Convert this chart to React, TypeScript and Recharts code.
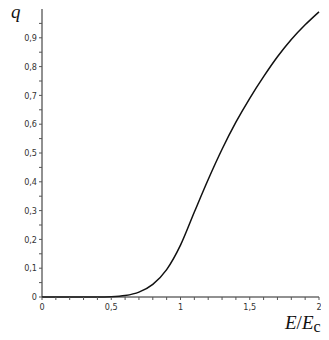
import React from 'react';
import { Line, LineChart, XAxis, YAxis } from 'recharts';

// E/Ec values along the x axis
const energyRatio = [0, 0.1, 0.2, 0.3, 0.4, 0.5, 0.6, 0.7, 0.8, 0.9, 1.0, 1.1, 1.2, 1.3, 1.4, 1.5, 1.6, 1.7, 1.8, 1.9, 2.0];
// q
const qValues = [0, 0, 0, 0, 0, 0.001, 0.005, 0.017, 0.044, 0.095, 0.18, 0.295, 0.408, 0.513, 0.607, 0.69, 0.765, 0.834, 0.894, 0.945, 0.99];

const xTicks = [0, 0.1, 0.2, 0.3, 0.4, 0.5, 0.6, 0.7, 0.8, 0.9, 1, 1.1, 1.2, 1.3, 1.4, 1.5, 1.6, 1.7, 1.8, 1.9, 2];
const yTicks = [0, 0.05, 0.1, 0.15, 0.2, 0.25, 0.3, 0.35, 0.4, 0.45, 0.5, 0.55, 0.6, 0.65, 0.7, 0.75, 0.8, 0.85, 0.9, 0.95];

const chartData = energyRatio.map((e, i) => ({ e, q: qValues[i] }));

const isStep = (v: number, step: number) => Math.abs(v / step - Math.round(v / step)) < 1e-6;
const commaNum = (v: number) => String(Math.round(v * 10) / 10).replace('.', ',');

const tickFont = {
  fill: '#333',
  fontSize: 9,
  fontFamily: '"Liberation Sans Narrow", "DejaVu Sans Condensed", sans-serif',
};
const axisStroke = '#222';

export default function App() {
  return (
    <div style={{ position: 'relative', width: 321, height: 332 }}>
      <LineChart
        width={321}
        height={332}
        data={chartData}
        margin={{ top: 1, right: 10, left: 0, bottom: 23 }}
      >
        <XAxis
          dataKey="e"
          type="number"
          domain={[0, 2]}
          ticks={xTicks}
          interval={0}
          tickFormatter={(v: number) => (isStep(v, 0.5) ? commaNum(v) : '')}
          tick={tickFont}
          tickSize={3}
          tickMargin={4}
          axisLine={{ stroke: axisStroke }}
          tickLine={{ stroke: '#555' }}
          height={20}
        />
        <YAxis
          type="number"
          domain={[0, 1]}
          ticks={yTicks}
          interval={0}
          tickFormatter={(v: number) => (isStep(v, 0.1) ? commaNum(v) : '')}
          tick={tickFont}
          tickSize={3}
          tickMargin={2}
          axisLine={{ stroke: axisStroke }}
          tickLine={{ stroke: '#555' }}
          width={34}
        />
        <Line
          type="monotone"
          dataKey="q"
          stroke="#111"
          strokeWidth={1.5}
          dot={false}
          isAnimationActive={false}
        />
      </LineChart>
      <div
        style={{
          position: 'absolute',
          left: 3,
          top: -7,
          fontFamily: '"Liberation Serif", serif',
          fontStyle: 'italic',
          fontSize: 19,
          color: '#111',
        }}
      >
        q
      </div>
      <div
        style={{
          position: 'absolute',
          left: 277,
          top: 304,
          fontFamily: '"Liberation Serif", serif',
          fontSize: 19,
          color: '#111',
          whiteSpace: 'nowrap',
        }}
      >
        <i>E</i>/<i>E</i>
        <span style={{ fontSize: 16, position: 'relative', top: 3 }}>c</span>
      </div>
    </div>
  );
}
